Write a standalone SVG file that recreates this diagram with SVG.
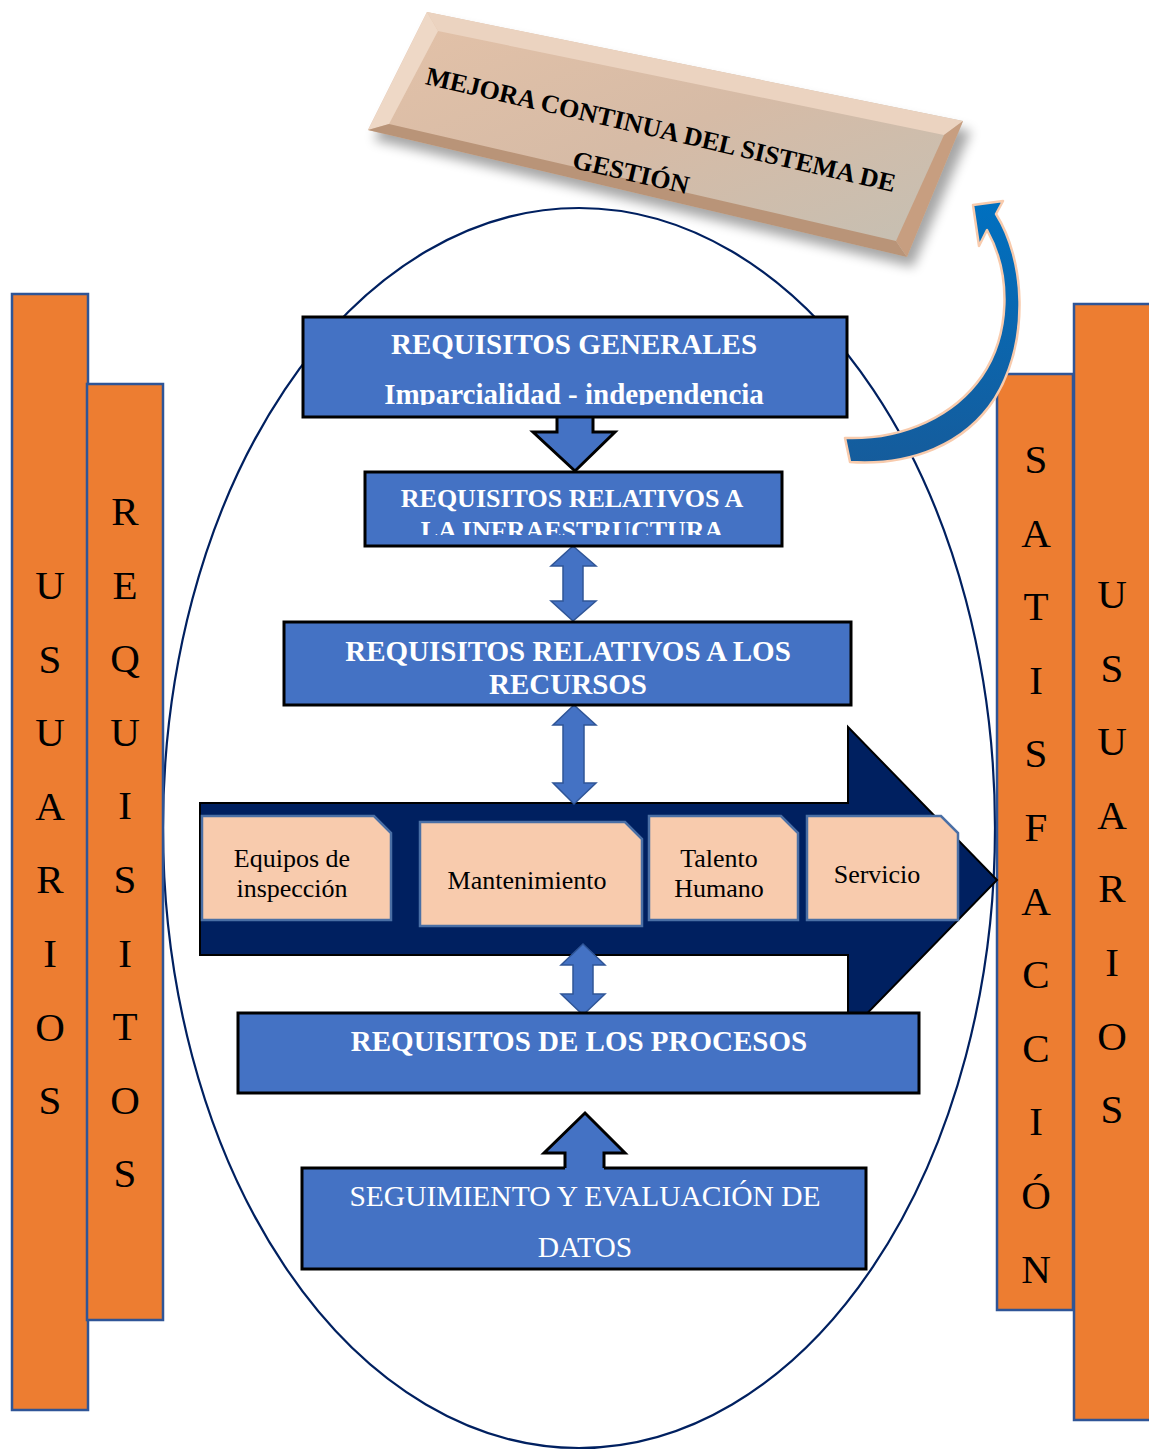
<svg xmlns="http://www.w3.org/2000/svg" width="1149" height="1451" viewBox="0 0 1149 1451">
<style>
.bar{fill:#ED7D31;stroke:#2F5597;stroke-width:2.5}
.vl{font-family:"Liberation Serif","Times New Roman",serif;font-size:41px;fill:#000;text-anchor:middle}
.bb{fill:#4472C4;stroke:#000;stroke-width:3}
.tb{font-family:"Liberation Serif","Times New Roman",serif;font-weight:bold;fill:#fff;text-anchor:middle}
.tr{font-family:"Liberation Serif","Times New Roman",serif;fill:#fff;text-anchor:middle}
.pk{fill:#F8CBAD;stroke:#4A6FA5;stroke-width:2.5}
.pt{font-family:"Liberation Serif","Times New Roman",serif;font-size:26px;fill:#000;text-anchor:middle}
.dbl{fill:#4472C4;stroke:#2F5597;stroke-width:1.5}
.blk{fill:#4472C4;stroke:#000;stroke-width:3}
.plt{font-family:"Liberation Serif","Times New Roman",serif;font-weight:bold;font-size:26px;fill:#000;text-anchor:middle}
</style>
<defs>
<linearGradient id="plq" x1="0" y1="0" x2="1" y2="1">
<stop offset="0" stop-color="#E4C2A8"/>
<stop offset="0.5" stop-color="#D6BBA6"/>
<stop offset="1" stop-color="#C4C0B4"/>
</linearGradient>
<linearGradient id="arr" x1="0" y1="0" x2="0" y2="1">
<stop offset="0" stop-color="#0070C0"/>
<stop offset="1" stop-color="#155C9C"/>
</linearGradient>
<filter id="sh" x="-10%" y="-20%" width="120%" height="150%">
<feGaussianBlur stdDeviation="6"/>
</filter>
<clipPath id="c1"><rect x="303" y="317" width="544" height="88"/></clipPath>
<clipPath id="c2"><rect x="365" y="472" width="417" height="63"/></clipPath>
</defs>
<rect width="1149" height="1451" fill="#fff"/>

<g id="ellipse">
<ellipse cx="579" cy="828" rx="416" ry="620" fill="none" stroke="#002060" stroke-width="2.2"/>
</g>

<g id="plaque">
<polygon points="433,22 971,131 913,267 374,140" fill="#000" opacity="0.35" filter="url(#sh)"/>
<polygon points="427,12 963,121 907,257 368,130" fill="url(#plq)"/>
<polygon points="427,12 963,121 944,135 438,31" fill="#EBD3C0"/>
<polygon points="427,12 438,31 389,124 368,130" fill="#EED8C6"/>
<polygon points="368,130 389,124 896,241 907,257" fill="#B99478"/>
<polygon points="963,121 907,257 896,241 944,135" fill="#C79E80"/>
<text class="plt" x="659" y="138" transform="rotate(13 659 138)">MEJORA CONTINUA DEL SISTEMA DE</text>
<text class="plt" x="629" y="181" transform="rotate(13 629 181)">GESTIÓN</text>
</g>

<g id="usuarios-izq">
<rect class="bar" x="12" y="294" width="76" height="1116"/>
<text class="vl" x="50" y="599">U</text>
<text class="vl" x="50" y="672.6">S</text>
<text class="vl" x="50" y="746.2">U</text>
<text class="vl" x="50" y="819.8">A</text>
<text class="vl" x="50" y="893.4">R</text>
<text class="vl" x="50" y="967">I</text>
<text class="vl" x="50" y="1040.6">O</text>
<text class="vl" x="50" y="1114.2">S</text>
</g>
<g id="requisitos">
<rect class="bar" x="87" y="384" width="76" height="936"/>
<text class="vl" x="125" y="525">R</text>
<text class="vl" x="125" y="598.6">E</text>
<text class="vl" x="125" y="672.2">Q</text>
<text class="vl" x="125" y="745.8">U</text>
<text class="vl" x="125" y="819.4">I</text>
<text class="vl" x="125" y="893">S</text>
<text class="vl" x="125" y="966.6">I</text>
<text class="vl" x="125" y="1040.2">T</text>
<text class="vl" x="125" y="1113.8">O</text>
<text class="vl" x="125" y="1187.4">S</text>
</g>
<g id="usuarios-der">
<rect class="bar" x="1074" y="304" width="80" height="1116"/>
<text class="vl" x="1112" y="608">U</text>
<text class="vl" x="1112" y="681.6">S</text>
<text class="vl" x="1112" y="755.2">U</text>
<text class="vl" x="1112" y="828.8">A</text>
<text class="vl" x="1112" y="902.4">R</text>
<text class="vl" x="1112" y="976">I</text>
<text class="vl" x="1112" y="1049.6">O</text>
<text class="vl" x="1112" y="1123.2">S</text>
</g>
<g id="satisfaccion">
<rect class="bar" x="997" y="374" width="76" height="936"/>
<text class="vl" x="1036" y="473">S</text>
<text class="vl" x="1036" y="546.6">A</text>
<text class="vl" x="1036" y="620.2">T</text>
<text class="vl" x="1036" y="693.8">I</text>
<text class="vl" x="1036" y="767.4">S</text>
<text class="vl" x="1036" y="841">F</text>
<text class="vl" x="1036" y="914.6">A</text>
<text class="vl" x="1036" y="988.2">C</text>
<text class="vl" x="1036" y="1061.8">C</text>
<text class="vl" x="1036" y="1135.4">I</text>
<text class="vl" x="1036" y="1209">Ó</text>
<text class="vl" x="1036" y="1282.6">N</text>
</g>

<g id="flecha-procesos">
<polygon points="200,803 848,803 848,727 997,880 848,1033 848,955 200,955" fill="#002060" stroke="#000" stroke-width="2"/>
</g>

<g id="equipos">
<path class="pk" d="M202,816 H374 L391,833 V920 H202 Z"/>
<text class="pt" x="292" y="867">Equipos de</text>
<text class="pt" x="292" y="897">inspección</text>
</g>
<g id="mantenimiento">
<path class="pk" d="M420,822 H625 L642,839 V926 H420 Z"/>
<text class="pt" x="527" y="889">Mantenimiento</text>
</g>
<g id="talento">
<path class="pk" d="M649,816 H781 L798,833 V920 H649 Z"/>
<text class="pt" x="719" y="867">Talento</text>
<text class="pt" x="719" y="897">Humano</text>
</g>
<g id="servicio">
<path class="pk" d="M807,816 H941 L958,833 V920 H807 Z"/>
<text class="pt" x="877" y="883">Servicio</text>
</g>

<g id="connectors">
<polygon class="blk" points="557,410 593,410 593,432 615,432 575,471 533,432 557,432"/>
<polygon class="dbl" points="573,546 596,566 583,566 583,601 596,601 573,621 551,601 563,601 563,566 551,566"/>
<polygon class="dbl" points="574,705 596,725 584,725 584,783 596,783 574,804 553,783 563,783 563,725 553,725"/>
<polygon class="dbl" points="583,944 605,965 593,965 593,994 605,994 583,1015 561,994 573,994 573,965 561,965"/>
<path d="M973,205 L1003,201 L996,214 C1025,260 1030,340 995,398 C965,445 910,466 850,462 L845,438 C905,440 955,415 982,376 C1010,335 1012,275 987,230 L979,246 Z" fill="url(#arr)" stroke="#F8CBAD" stroke-width="2.5" stroke-linejoin="round"/>
</g>

<g id="req-generales">
<rect class="bb" x="303" y="317" width="544" height="100"/>
<g clip-path="url(#c1)">
<text class="tb" x="574" y="354" font-size="29">REQUISITOS GENERALES</text>
<text class="tb" x="574" y="404" font-size="29">Imparcialidad - independencia</text>
</g>
</g>
<g id="req-infraestructura">
<rect class="bb" x="365" y="472" width="417" height="74"/>
<g clip-path="url(#c2)">
<text class="tb" x="572" y="507" font-size="26">REQUISITOS RELATIVOS A</text>
<text class="tb" x="572" y="539" font-size="26">LA INFRAESTRUCTURA</text>
</g>
</g>
<g id="req-recursos">
<rect class="bb" x="284" y="622" width="567" height="83"/>
<text class="tb" x="568" y="661" font-size="29">REQUISITOS RELATIVOS A LOS</text>
<text class="tb" x="568" y="694" font-size="29">RECURSOS</text>
</g>
<g id="req-procesos">
<rect class="bb" x="238" y="1013" width="681" height="80"/>
<text class="tb" x="579" y="1051" font-size="29">REQUISITOS DE LOS PROCESOS</text>
</g>
<g id="seguimiento">
<rect class="bb" x="302" y="1168" width="564" height="101"/>
<text class="tr" x="585" y="1206" font-size="29.5">SEGUIMIENTO Y EVALUACIÓN DE</text>
<text class="tr" x="585" y="1257" font-size="29.5">DATOS</text>
</g>
<g id="connector-up">
<polygon points="565,1171 565,1153 544,1153 585,1113 625,1153 604,1153 604,1171" fill="#4472C4"/>
<polyline points="565,1168 565,1153 544,1153 585,1113 625,1153 604,1153 604,1168" fill="none" stroke="#000" stroke-width="3"/>
</g>
</svg>
